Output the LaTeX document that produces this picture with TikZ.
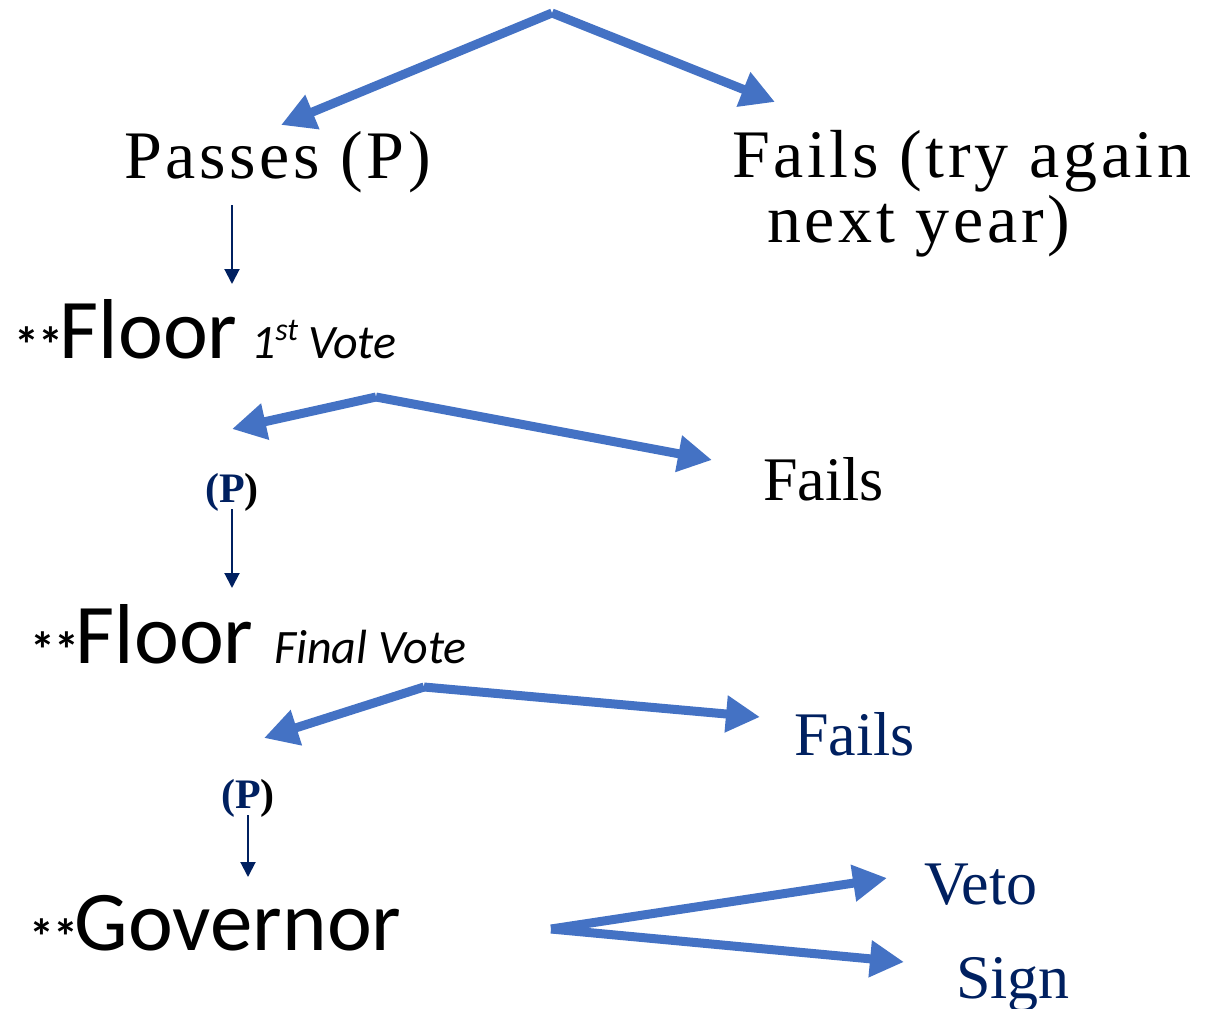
\documentclass[tikz,border=0pt]{standalone}
\usepackage{fontspec}
\setmainfont{Liberation Serif}
\newfontfamily\carlitofam{Carlito}
\newfontfamily\wideserifA{Liberation Serif}[LetterSpace=5.4]
\usetikzlibrary{arrows.meta}
\definecolor{arrowblue}{HTML}{4472C4}
\definecolor{navy}{HTML}{002060}
\tikzset{
  txt/.style={inner sep=0pt, outer sep=0pt, anchor=base west},
  bigarrow/.style={draw=arrowblue, line width=9pt, line cap=butt,
    -{Triangle[length=34pt,width=35pt]}},
  thinarrow/.style={draw=navy, line width=2pt,
    -{Triangle[length=15pt,width=15pt]}},
  wideserif/.style={font=\wideserifA\fontsize{68}{68}\selectfont},
  calbig/.style={font=\carlitofam\fontsize{85}{85}\selectfont},
  calsmall/.style={font=\carlitofam\itshape\fontsize{48}{48}\selectfont},
  times/.style={font=\fontsize{62}{62}\selectfont},
  pmark/.style={font=\bfseries\fontsize{42}{42}\selectfont, inner sep=0pt, anchor=base}
}
\newcommand{\supst}{\raisebox{0.36em}{\fontsize{32}{32}\selectfont st}}
\newcommand{\starpair}{{\fontsize{50}{50}\selectfont\bfseries\raisebox{-4.5pt}{**}}\kern-4pt}
\begin{document}
\begin{tikzpicture}[x=1pt,y=-1pt]
\useasboundingbox (0,0) rectangle (1208,1009);
% texts
\node[txt, wideserif] (passes) at (124,178) {Passes (P)};
\node[txt, wideserif] (failsA) at (732,177) {Fails (try again};
\node[txt, wideserif] (failsB) at (767,242) {next year)};

\node[txt, calbig] (floor1) at (14,358) {\starpair Floor};
\node[txt, calsmall] (vote1) at (251,358) {1\supst\hspace{10pt}Vote};

\node[txt, times] (fails2) at (763,500) {Fails};
\node[pmark] (p1) at (232,502) {\textcolor{navy}{(P}\textcolor{black}{)}};

\node[txt, calbig] (floor2) at (30,663) {\starpair Floor};
\node[txt, calsmall] (vote2) at (274,663) {Final Vote};

\node[txt, times, text=navy] (fails3) at (794,755) {Fails};
\node[pmark] (p2) at (248,808) {\textcolor{navy}{(P}\textcolor{black}{)}};

\node[txt, calbig] (gov) at (29,950) {\starpair Governor};

\node[txt, times, text=navy] (veto) at (924,904) {Veto};
\node[txt, times, text=navy] (sign) at (956,998) {Sign};

% coordinates
\coordinate (apex1) at (552,13);
\coordinate (t1l) at (281,125);
\coordinate (t1r) at (775,102);
\coordinate (apex2) at (376,397);
\coordinate (t2l) at (232,429);
\coordinate (t2r) at (712,460);
\coordinate (apex3) at (424,687);
\coordinate (t3l) at (264,738);
\coordinate (t3r) at (760,717);
\coordinate (apex4) at (551,929);
\coordinate (t4u) at (887,878);
\coordinate (t4l) at (904,962);

\coordinate (a1s) at (232,205);
\coordinate (a1e) at (232,284);
\coordinate (a2s) at (232,509);
\coordinate (a2e) at (232,588);
\coordinate (a3s) at (248,815);
\coordinate (a3e) at (248,877);

% connectors
\draw[bigarrow] (apex1) -- (t1l);
\draw[bigarrow] (apex1) -- (t1r);
\draw[bigarrow] (apex2) -- (t2l);
\draw[bigarrow] (apex2) -- (t2r);
\draw[bigarrow] (apex3) -- (t3l);
\draw[bigarrow] (apex3) -- (t3r);
\draw[bigarrow] (apex4) -- (t4u);
\draw[bigarrow] (apex4) -- (t4l);

\draw[thinarrow] (a1s) -- (a1e);
\draw[thinarrow] (a2s) -- (a2e);
\draw[thinarrow] (a3s) -- (a3e);
\end{tikzpicture}
\end{document}
